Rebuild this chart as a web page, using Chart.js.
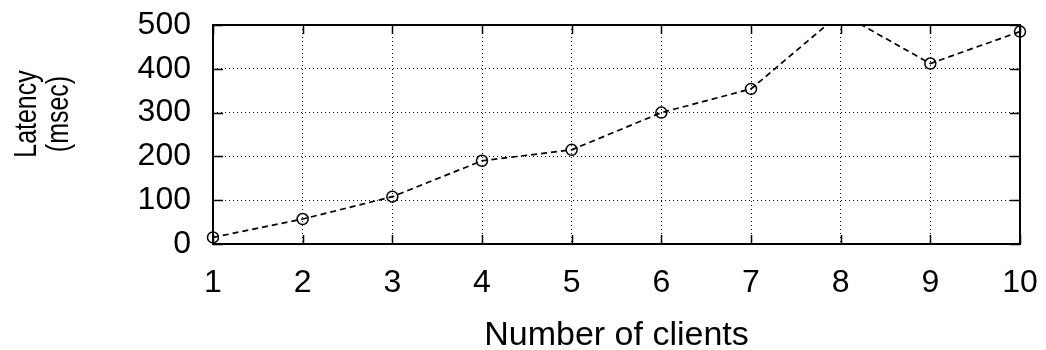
<!DOCTYPE html>
<html>
<head>
<meta charset="utf-8">
<title>Latency vs. number of clients</title>
<script src="https://cdn.jsdelivr.net/npm/chart.js@4/dist/chart.umd.min.js"></script>
<style>
  html, body { margin: 0; padding: 0; background: #fff; }
  #wrap { width: 1046px; height: 350px; }
</style>
</head>
<body>
<div id="wrap"><canvas id="chart" width="1046" height="350"></canvas></div>
<script>
// Measured latency per number of concurrent clients
const clients = ['1', '2', '3', '4', '5', '6', '7', '8', '9', '10'];
const latencyMs = [15, 57, 108, 190, 215, 300, 354, 527, 412, 485];
const yTicks = [0, 100, 200, 300, 400, 500];

const FONT = '"Liberation Sans", Arial, Helvetica, sans-serif';

// Frame around the plot, short inward tick marks on all four sides,
// and the two-line rotated y-axis title.
const framePlugin = {
  id: 'frame',
  afterDraw(chart) {
    const { ctx, chartArea: a } = chart;
    const xs = chart.scales.x, ys = chart.scales.y;
    ctx.save();
    ctx.strokeStyle = '#000';
    ctx.lineWidth = 1.5;
    ctx.setLineDash([]);
    ctx.beginPath();
    yTicks.forEach(v => {
      const py = Math.round(ys.getPixelForValue(v)) + 0.5;
      ctx.moveTo(a.left, py); ctx.lineTo(a.left + 10, py);
      ctx.moveTo(a.right, py); ctx.lineTo(a.right - 10, py);
    });
    clients.forEach((c, i) => {
      const px = Math.round(xs.getPixelForValue(i)) + 0.5;
      ctx.moveTo(px, a.bottom); ctx.lineTo(px, a.bottom - 9);
      ctx.moveTo(px, a.top); ctx.lineTo(px, a.top + 9);
    });
    ctx.stroke();

    ctx.lineWidth = 2;
    ctx.strokeRect(a.left, a.top, a.right - a.left, a.bottom - a.top);

    ctx.fillStyle = '#000';
    ctx.font = '26px ' + FONT;
    ctx.textAlign = 'center';
    ctx.textBaseline = 'alphabetic';
    ctx.translate(0, 114);
    ctx.rotate(-Math.PI / 2);
    ctx.scale(0.96, 1.2);
    ctx.fillText('Latency', 0, 30);
    ctx.fillText('(msec)', 0, 57);
    ctx.restore();
  }
};

new Chart(document.getElementById('chart'), {
  type: 'line',
  data: {
    labels: clients,
    datasets: [{
      label: 'Latency',
      data: latencyMs,
      borderColor: '#000',
      borderWidth: 1.7,
      borderDash: [6, 4],
      backgroundColor: 'rgba(0,0,0,0)',
      pointStyle: 'circle',
      pointRadius: 5.5,
      pointBorderWidth: 1.5,
      pointBorderColor: '#000',
      pointBackgroundColor: 'rgba(0,0,0,0)',
      tension: 0,
      fill: false,
      clip: { left: 10, right: 10, top: 0, bottom: 10 }
    }]
  },
  options: {
    responsive: false,
    animation: false,
    devicePixelRatio: 1,
    layout: { padding: { left: 0, right: 26, top: 25, bottom: 0 } },
    plugins: { legend: { display: false }, tooltip: { enabled: false } },
    scales: {
      x: {
        type: 'category',
        offset: false,
        afterFit(scale) {
          scale.height = 106;
          scale.paddingLeft = 0;
          scale.paddingRight = 0;
        },
        grid: { color: '#000', lineWidth: 1, drawTicks: false },
        border: { display: false, dash: [1, 3] },
        ticks: {
          color: '#000',
          font: { family: FONT, size: 32 },
          padding: 20,
          maxRotation: 0,
          autoSkip: false
        },
        title: {
          display: true,
          text: 'Number of clients',
          color: '#000',
          font: { family: FONT, size: 34, lineHeight: 1 },
          padding: { top: 0, bottom: -3 }
        }
      },
      y: {
        min: 0,
        max: 500,
        afterFit(scale) {
          scale.width = 213;
          scale.paddingTop = 0;
          scale.paddingBottom = 0;
        },
        afterBuildTicks(scale) { scale.ticks = yTicks.map(v => ({ value: v })); },
        grid: { color: '#000', lineWidth: 1, drawTicks: false },
        border: { display: false, dash: [1, 3] },
        ticks: {
          color: '#000',
          font: { family: FONT, size: 32 },
          padding: 22
        }
      }
    }
  },
  plugins: [framePlugin]
});
</script>
</body>
</html>
